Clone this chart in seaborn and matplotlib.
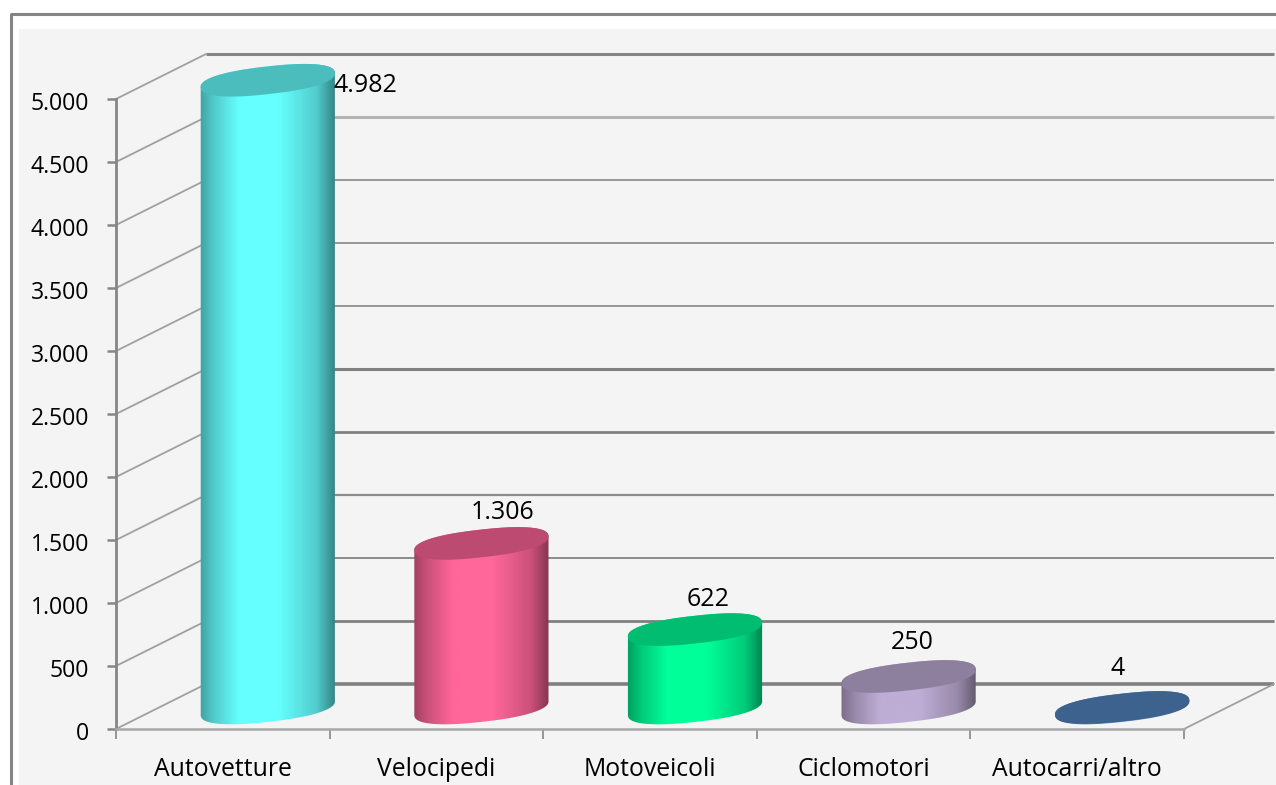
import numpy as np
from matplotlib import pyplot as plt
from matplotlib.colors import to_rgb
from matplotlib.lines import Line2D
from matplotlib.patches import Polygon, Rectangle
from matplotlib.transforms import ScaledTranslation
import seaborn as sns

categories = ["Autovetture", "Velocipedi", "Motoveicoli", "Ciclomotori", "Autocarri/altro"]
values = [4982, 1306, 622, 250, 4]
value_labels = ["4.982", "1.306", "622", "250", "4"]
y_ticks = [0, 500, 1000, 1500, 2000, 2500, 3000, 3500, 4000, 4500, 5000]
y_tick_labels = ["0", "500", "1.000", "1.500", "2.000", "2.500", "3.000", "3.500", "4.000", "4.500", "5.000"]
bar_colors = ["#66FFFF", "#FF6699", "#00FF99", "#BEADD5", "#5285C0"]

# label shift from the front of each bar, in pixels
label_shift = [(143, 16), (66, 52), (58, 51), (49, 55), (40, 60)]
# the resampled screenshot makes the wall lines uneven
grid_widths = [2.6, 2.0, 1.4, 1.6, 2.0, 2.2, 1.3, 1.3, 1.3, 2.2, 2.2]
grid_colors = ["#808080", "#808080", "#8c8c8c", "#8c8c8c", "#808080", "#808080",
               "#909090", "#909090", "#909090", "#b4b4b4", "#858585"]

W, H = 1276, 785
sns.set_theme(style="white")
plt.rcParams["font.family"] = ["Open Sans", "DejaVu Sans"]

fig = plt.figure(figsize=(W / 100, H / 100), dpi=100, facecolor="white")

# sheet and frame of the pasted chart
fig.add_artist(Rectangle((19 / W, 0), 1, 1 - 29 / H, transform=fig.transFigure, color="#f4f4f4", lw=0, zorder=-2))
fig.add_artist(Line2D([10.5 / W, 10.5 / W, 1], [0, 1 - 14 / H, 1 - 14 / H], transform=fig.transFigure,
                      color="#858585", lw=2.2, zorder=-1))

ax = fig.add_axes([116 / W, (H - 729) / H, 1068 / W, 630 / H])
ax.patch.set_alpha(0)

sns.barplot(x=categories, y=values, hue=categories, palette=bar_colors, width=0.632,
            legend=False, saturation=1, ax=ax, zorder=3)
ax.set_xlim(-0.5, 4.5)
ax.set_ylim(0, 5000)

# pixels to data units
px_x = 5 / 1068
px_y = 5000 / 630
wall_dx, wall_dy = 90 * px_x, 45 * px_y
bar_dx, bar_dy = 45 * px_x, 21 * px_y

# back wall and side wall
for tick, lw, col in zip(y_ticks, grid_widths, grid_colors):
    ax.plot([-0.5 + wall_dx, 4.5 + wall_dx], [tick + wall_dy, tick + wall_dy], color=col, lw=lw,
            clip_on=False, zorder=1, solid_capstyle="butt")
    ax.plot([-0.5, -0.5 + wall_dx], [tick, tick + wall_dy], color="#a0a0a0", lw=1.3,
            clip_on=False, zorder=1)
ax.plot([4.5, 4.5 + wall_dx], [0, wall_dy], color="#a0a0a0", lw=1.3, clip_on=False, zorder=1)


def ellipse_points(cx, cy, start, stop):
    # tilted, slightly squared ellipse of the cylinder, built in pixels then moved to data units
    t = np.linspace(start, stop, 120)
    a, b, tilt = 67.5, 13.8, np.radians(6.4)
    c = np.sign(np.cos(t)) * np.abs(np.cos(t)) ** 0.85
    s = np.sign(np.sin(t)) * np.abs(np.sin(t)) ** 0.85
    dx = a * c * np.cos(tilt) - b * s * np.sin(tilt)
    dy = a * c * np.sin(tilt) + b * s * np.cos(tilt)
    return np.column_stack([cx + dx * px_x, cy + dy * px_y])


stops = [0, 0.12, 0.3, 0.58, 0.85, 1]
shade = [0.6, 0.8, 1, 1, 0.8, 0.48]
ramp = np.linspace(0, 1, 200)
for patch, color, value in zip(ax.patches, bar_colors, values):
    cx = patch.get_x() + patch.get_width() / 2 + bar_dx
    top = patch.get_height() + bar_dy
    rgb = np.array(to_rgb(color))
    # outline: upper half of the top ellipse, lower half of the base ellipse
    outline = np.vstack([ellipse_points(cx, top, np.pi, 0),
                         ellipse_points(cx, bar_dy, 0, -np.pi)])
    body = Polygon(outline, transform=ax.transData)
    patch.set_visible(False)
    strip = np.outer(np.interp(ramp, stops, shade), rgb)[np.newaxis, :, :]
    im = ax.imshow(strip, extent=[cx - 0.33, cx + 0.33, bar_dy - 20 * px_y, top + 20 * px_y],
                   aspect="auto", interpolation="bilinear", zorder=3)
    im.set_clip_box(fig.bbox)
    im.set_clip_path(body)
    lid = ellipse_points(cx, top, 0, 2 * np.pi)
    ax.fill(lid[:, 0], lid[:, 1], color=rgb * 0.74, lw=0, clip_on=False, zorder=4)

ax.set_xlim(-0.5, 4.5)
ax.set_ylim(0, 5000)

for i, (label, value) in enumerate(zip(value_labels, values)):
    ax.annotate(label, xy=(i, value), xytext=label_shift[i], textcoords="offset pixels",
                ha="center", va="center", fontsize=18, color="black",
                annotation_clip=False, zorder=6)

sns.despine(ax=ax, top=True, right=True)
ax.spines["left"].set_color("#868686")
ax.spines["left"].set_linewidth(2)
ax.spines["bottom"].set_color("#a8a8a8")
ax.spines["bottom"].set_linewidth(1.8)

ax.set_yticks(y_ticks, labels=y_tick_labels)
ax.set_xticks(range(len(categories)), labels=categories)
ax.set_xticks(np.arange(-0.5, 5, 1), minor=True)
ax.tick_params(axis="y", left=True, length=6.5, width=1.8, color="#868686", pad=13,
               labelsize=16.6, labelcolor="black")
ax.tick_params(axis="x", which="major", bottom=False, pad=14, labelsize=17.8, labelcolor="black")
ax.tick_params(axis="x", which="minor", bottom=True, length=7, width=1.2, color="#868686")
ax.set_xlabel("")
ax.set_ylabel("")

# tick labels sit a little lower in the reference
nudge = ScaledTranslation(0, -2 / 100, fig.dpi_scale_trans)
for lab in ax.get_yticklabels():
    lab.set_transform(lab.get_transform() + nudge)

fig.savefig("out.png", dpi=100)
